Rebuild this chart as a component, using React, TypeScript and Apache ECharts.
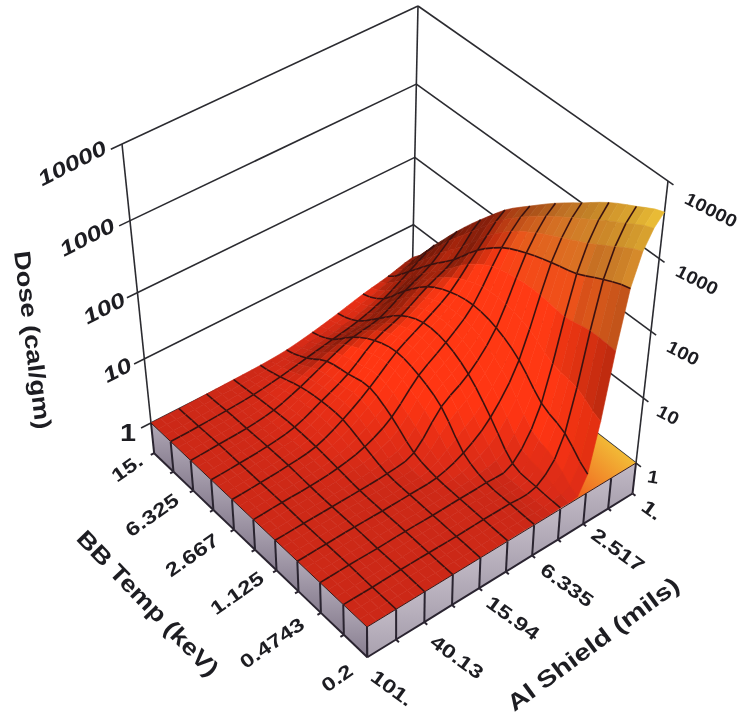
import React, { useEffect, useRef } from "react";
import * as echarts from "echarts";

const bbTicks = ["15.", "6.325", "2.667", "1.125", "0.4743", "0.2"];
const alTicks = ["1.", "2.517", "6.335", "15.94", "40.13", "101."];
const doseTicks = ["1", "10", "100", "1000", "10000"];

// log10(dose); columns run Al = 1 ... 101 mils
const bb0 = [0.5, 0.4, 0.32, 0.22, 0.13, 0.06, 0.03, 0.02, 0.01, 0, 0];
const bb1 = [0.93, 0.72, 0.5, 0.36, 0.28, 0.2, 0.12, 0.06, 0.03, 0.01, 0];
const bb2 = [1.38, 1.08, 0.88, 0.66, 0.58, 0.42, 0.24, 0.1, 0.04, 0.02, 0];
const bb3 = [1.8, 1.4, 1.2, 0.97, 0.8, 0.5, 0.3, 0.12, 0.05, 0.02, 0];
const bb4 = [2.18, 1.8, 1.38, 1.13, 0.9, 0.57, 0.3, 0.11, 0.05, 0.02, 0];
const bb5 = [2.47, 2.09, 1.45, 1.1, 0.82, 0.4, 0.17, 0.07, 0.03, 0.02, 0];
const bb6 = [2.75, 2.26, 1.38, 0.9, 0.62, 0.14, 0.05, 0.03, 0.02, 0.01, 0];
const bb7 = [3.0, 2.38, 1.17, 0.52, 0.2, 0.05, 0.03, 0.02, 0.02, 0.01, 0];
const bb8 = [3.24, 2.48, 0.8, 0.1, 0.04, 0.03, 0.02, 0.02, 0.01, 0.01, 0];
const bb9 = [3.43, 2.66, 0.63, 0.04, 0.02, 0.02, 0.01, 0.01, 0.01, 0, 0];
const bb10 = [3.6, 2.8, 0.3, 0.02, 0.01, 0.01, 0, 0, 0, 0, 0];
const logDose = [bb0, bb1, bb2, bb3, bb4, bb5, bb6, bb7, bb8, bb9, bb10];

type P = [number, number];
// screen corners of the plot box: back, right, front, left
const floorQuad: P[] = [[412, 290], [636, 463], [367, 627], [151, 423]];
const topQuad: P[] = [[418, 6], [668, 181], [364, 347], [122, 144]];
const zFrac = [0, 0.23, 0.467, 0.725, 1];
const N = 10;
const SUB = 3;
const BASE = -0.47;

function homography(q: P[]) {
  const [[x0, y0], [x1, y1], [x2, y2], [x3, y3]] = q;
  const dx1 = x1 - x2, dx2 = x3 - x2, sx = x0 - x1 + x2 - x3;
  const dy1 = y1 - y2, dy2 = y3 - y2, sy = y0 - y1 + y2 - y3;
  const den = dx1 * dy2 - dx2 * dy1;
  const g = (sx * dy2 - dx2 * sy) / den;
  const h = (dx1 * sy - sx * dy1) / den;
  const a = x1 - x0 + g * x1, b = x3 - x0 + h * x3;
  const d = y1 - y0 + g * y1, e = y3 - y0 + h * y3;
  return (u: number, v: number): P => {
    const w = g * u + h * v + 1;
    return [(a * u + b * v + x0) / w, (d * u + e * v + y0) / w];
  };
}
const hf = homography(floorQuad);
const ht = homography(topQuad);
function frac(z: number) {
  if (z <= 0) return z * zFrac[1];
  if (z >= 4) return 1;
  const k = Math.floor(z);
  return zFrac[k] + (z - k) * (zFrac[k + 1] - zFrac[k]);
}
function project(u: number, v: number, z: number): P {
  const a = hf(u, v), b = ht(u, v), t = frac(z);
  return [a[0] + (b[0] - a[0]) * t, a[1] + (b[1] - a[1]) * t];
}
function cr(p0: number, p1: number, p2: number, p3: number, t: number) {
  return 0.5 * (2 * p1 + (p2 - p0) * t + (2 * p0 - 5 * p1 + 4 * p2 - p3) * t * t + (3 * p1 - p0 - 3 * p2 + p3) * t * t * t);
}
const at = (i: number, j: number) => logDose[Math.max(0, Math.min(N, i))][Math.max(0, Math.min(N, j))];
function surf(fi: number, fj: number) {
  const i = Math.min(N - 1, Math.floor(fi)), j = Math.min(N - 1, Math.floor(fj));
  const ti = fi - i, tj = fj - j;
  const col = [-1, 0, 1, 2].map((di) => cr(at(i + di, j - 1), at(i + di, j), at(i + di, j + 1), at(i + di, j + 2), tj));
  const lo = Math.min(at(i, j), at(i + 1, j), at(i, j + 1), at(i + 1, j + 1));
  return Math.max(lo * 0.6, cr(col[0], col[1], col[2], col[3], ti));
}
const stops: [number, number[]][] = [
  [0, [212, 42, 24]], [0.2, [220, 44, 22]], [0.6, [250, 52, 18]], [2, [250, 58, 20]],
  [2.35, [224, 92, 28]], [2.85, [208, 125, 40]], [3.35, [212, 160, 46]], [3.62, [240, 200, 56]],
];
function surfColor(z: number, dzdu: number, dzdv: number) {
  let c = stops[stops.length - 1][1];
  for (let k = 0; k < stops.length - 1; k++) {
    if (z <= stops[k + 1][0]) {
      const t = Math.max(0, (z - stops[k][0]) / (stops[k + 1][0] - stops[k][0]));
      c = stops[k][1].map((s, m) => s + (stops[k + 1][1][m] - s) * t);
      break;
    }
  }
  const b = Math.min(1.02, Math.max(0.24, 0.96 - 2.1 * Math.max(0, dzdu - 0.12) + 0.5 * Math.min(0.4, -dzdv) - 0.2 * Math.max(0, -dzdv - 0.9)));
  return `rgb(${Math.round(c[0] * b)},${Math.round(c[1] * b)},${Math.round(c[2] * b)})`;
}

const meshLine = { stroke: "#3a1210", lineWidth: 1.6 };
const cells: number[][] = [];
for (let i = 0; i < N; i++) for (let j = 0; j < N; j++) cells.push([i, j]);

function renderCell(params: any, api: any) {
  const [ci, cj] = cells[params.dataIndex];
  const children: any[] = [];
  const S = (p: P) => api.coord(p);
  const pt = (fi: number, fj: number) => S(project(fi / N, fj / N, surf(fi, fj)));
  for (let a = 0; a < SUB; a++) {
    for (let b = 0; b < SUB; b++) {
      const i0 = ci + a / SUB, i1 = ci + (a + 1) / SUB, j0 = cj + b / SUB, j1 = cj + (b + 1) / SUB;
      const z00 = surf(i0, j0), z10 = surf(i1, j0), z01 = surf(i0, j1), z11 = surf(i1, j1);
      const dzdu = ((z10 + z11 - z00 - z01) / 2) * SUB;
      const dzdv = ((z01 + z11 - z00 - z10) / 2) * SUB;
      const color = surfColor((z00 + z10 + z01 + z11) / 4, dzdu, dzdv);
      const p00 = pt(i0, j0), p10 = pt(i1, j0), p01 = pt(i0, j1), p11 = pt(i1, j1);
      children.push({ type: "polygon", shape: { points: [p00, p10, p11, p01] }, style: { fill: color, stroke: color, lineWidth: 0.6 } });
      if (a === 0 && ci > 0) children.push({ type: "line", shape: { x1: p00[0], y1: p00[1], x2: p01[0], y2: p01[1] }, style: meshLine });
      if (b === 0 && cj > 0) children.push({ type: "line", shape: { x1: p00[0], y1: p00[1], x2: p10[0], y2: p10[1] }, style: meshLine });
    }
  }
  return { type: "group", children };
}

const frameLines: number[][] = [];
doseTicks.forEach((_, k) => {
  frameLines.push([0, 1.035, k, 0, 0, k]);
  frameLines.push([0, 0, k, 1.02, 0, k]);
});
frameLines.push([0, 1, 0, 0, 1, 4], [0, 0, 0, 0, 0, 4], [1, 0, 0, 1, 0, 4]);

function renderFrame(params: any, api: any) {
  const l = frameLines[params.dataIndex];
  const a = api.coord(project(l[0], l[1], l[2]));
  const b = api.coord(project(l[3], l[4], l[5]));
  return { type: "line", shape: { x1: a[0], y1: a[1], x2: b[0], y2: b[1] }, style: { stroke: "#2b2b30", lineWidth: 1.6 } };
}

const floorCorner: number[][] = [[1, 0], [1, 0.26], [0.78, 0.26], [0.78, 0]];
function renderFloor(_: any, api: any) {
  return {
    type: "polygon",
    shape: { points: floorCorner.map((c) => api.coord(project(c[0], c[1], 0))) },
    style: {
      fill: new echarts.graphic.LinearGradient(0.3, 0.9, 1, 0.35, [
        { offset: 0, color: "#f0501a" },
        { offset: 1, color: "#f2c83a" },
      ]),
    },
  };
}

const panels: number[][] = [];
for (let k = 0; k < N; k++) panels.push([0, k]);
for (let k = 0; k < N; k++) panels.push([1, k]);
function renderPanel(params: any, api: any) {
  const [side, k] = panels[params.dataIndex];
  const a0 = k / N, a1 = (k + 1) / N;
  const q = (t: number, z: number) => api.coord(side === 0 ? project(t, 1, z) : project(1, t, z));
  const fill = side === 0
    ? new echarts.graphic.LinearGradient(0, 0, 0, 1, [{ offset: 0, color: "#b2aab8" }, { offset: 1, color: "#867c8e" }])
    : new echarts.graphic.LinearGradient(0, 0, 0, 1, [{ offset: 0, color: "#c2bac6" }, { offset: 1, color: "#a8a0ae" }]);
  const tA = q(a0, 0), bA = q(a0, BASE), tB = q(a1, 0), bB = q(a1, BASE);
  const tick = side === 0 ? api.coord(project(a0, 1.012, BASE)) : api.coord(project(1.012, a0, BASE));
  const stroke = { stroke: "#2a2430", lineWidth: 2 };
  const children: any[] = [
    { type: "polygon", shape: { points: [tA, tB, bB, bA] }, style: { fill } },
    { type: "line", shape: { x1: tA[0], y1: tA[1], x2: bA[0], y2: bA[1] }, style: stroke },
    { type: "line", shape: { x1: bA[0], y1: bA[1], x2: bB[0], y2: bB[1] }, style: stroke },
    { type: "line", shape: { x1: tA[0], y1: tA[1], x2: tB[0], y2: tB[1] }, style: { stroke: "#3a1a18", lineWidth: 1 } },
    { type: "line", shape: { x1: bA[0], y1: bA[1], x2: tick[0], y2: tick[1] }, style: stroke },
  ];
  if (k === N - 1) children.push({ type: "line", shape: { x1: tB[0], y1: tB[1], x2: bB[0], y2: bB[1] }, style: stroke });
  return { type: "group", children };
}

const deg = Math.PI / 180;
function label(text: string, x: number, y: number, rot: number, size: number, sx: number, style = "normal") {
  return {
    type: "text", x, y, rotation: rot * deg, scaleX: sx, silent: true,
    style: {
      text, fill: "#1d1d22", textAlign: "center", textVerticalAlign: "middle", verticalAlign: "middle",
      font: `${style} bold ${size}px "Liberation Sans", Arial, sans-serif`,
    },
  };
}
const bbPos: P[] = [[127, 468], [152, 515], [192, 555], [237, 593], [272, 643], [337, 678]];
const alPos: P[] = [[652, 510], [618, 550], [567, 585], [513, 618], [457, 657], [392, 688]];
const leftPos: P[] = [[128, 433], [117, 370], [104, 308], [87, 237], [72, 163]];
const rightPos: P[] = [[653, 477], [668, 415], [683, 353], [697, 280], [711, 210]];

const texts = [
  ...bbTicks.map((t, k) => label(t, bbPos[k][0], bbPos[k][1], 35, 19, 1.27)),
  ...alTicks.map((t, k) => label(t, alPos[k][0], alPos[k][1], -36, 19, 1.27)),
  ...doseTicks.map((t, k) =>
    k === 0
      ? label(t, leftPos[k][0], leftPos[k][1], 0, 24, 1.2)
      : label(t, leftPos[k][0], leftPos[k][1], 27, 21, 1.27, "italic"),
  ),
  ...doseTicks.map((t, k) => label(t, rightPos[k][0], rightPos[k][1], k === 0 ? -10 : -27, 18, 1.12)),
  label("Dose (cal/gm)", 33, 340, -83, 23, 1.19),
  label("BB Temp (keV)", 148, 603, -46, 23, 1.19),
  label("Al Shield (mils)", 593, 644, 36.5, 23, 1.25),
];

export default function App() {
  const ref = useRef<HTMLDivElement>(null);
  useEffect(() => {
    const chart = echarts.init(ref.current!, undefined, { renderer: "svg" });
    chart.setOption({
      animation: false,
      backgroundColor: "#fff",
      grid: { left: 0, right: 0, top: 0, bottom: 0 },
      xAxis: { type: "value", min: 0, max: 742, show: false },
      yAxis: { type: "value", min: 0, max: 718, inverse: true, show: false },
      tooltip: { show: false },
      graphic: texts,
      series: [
        { type: "custom", silent: true, clip: false, renderItem: renderFrame, data: frameLines.map((_, k) => [k, k]) },
        { type: "custom", silent: true, clip: false, renderItem: renderFloor, data: [[0, 0]] },
        { type: "custom", silent: true, clip: false, renderItem: renderCell, data: cells },
        { type: "custom", silent: true, clip: false, renderItem: renderPanel, data: panels },
      ],
    });
    return () => chart.dispose();
  }, []);
  return <div ref={ref} style={{ position: "absolute", left: 0, top: 0, width: 742, height: 718, filter: "blur(0.5px)" }} />;
}
